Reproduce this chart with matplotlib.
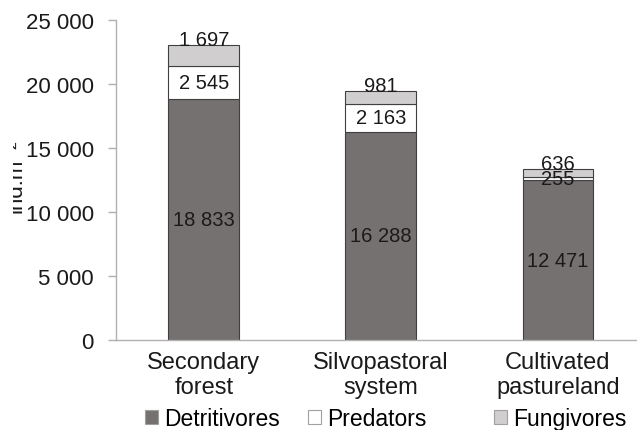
import matplotlib
matplotlib.use('Agg')
import matplotlib.pyplot as plt
import numpy as np
from matplotlib.patches import Rectangle

plt.rcParams['font.family'] = ['Liberation Sans', 'DejaVu Sans']

# abundance by land use (ind. per m2)
sites = ['Secondary\nforest', 'Silvopastoral\nsystem', 'Cultivated\npastureland']
detritivores = [18833, 16288, 12471]
predators = [2545, 2163, 255]
fungivores = [1697, 981, 636]

yticks = [0, 5000, 10000, 15000, 20000, 25000]
ytick_labels = ['0', '5 000', '10 000', '15 000', '20 000', '25 000']

c_det = '#767171'
c_pred = '#ffffff'
c_fung = '#d0cece'
edge = '#404040'


def fmt(v):
    return f'{v:,}'.replace(',', ' ')


fig = plt.figure(figsize=(6.37, 4.31), dpi=100)
ax = fig.add_axes([116 / 637, 1 - 341 / 431, 1 - 116 / 637, 320 / 431])

x = np.arange(len(sites))
w = 0.4
det = np.array(detritivores)
pred = np.array(predators)
fung = np.array(fungivores)

b1 = ax.bar(x, det, w, color=c_det, edgecolor=edge, linewidth=0.8, label='Detritivores')
b2 = ax.bar(x, pred, w, bottom=det, color=c_pred, edgecolor=edge, linewidth=0.8, label='Predators')
b3 = ax.bar(x, fung, w, bottom=det + pred, color=c_fung, edgecolor=edge, linewidth=0.8, label='Fungivores')

lab_kw = dict(ha='center', fontsize=14.5, color='#1a1a1a')
for i in range(len(sites)):
    ax.text(x[i], det[i] / 2, fmt(det[i]), va='center', **lab_kw)
    ax.text(x[i], det[i] + pred[i] / 2, fmt(pred[i]), va='center', **lab_kw)
    ax.text(x[i], det[i] + pred[i] + fung[i], fmt(fung[i]), va='baseline', **lab_kw)

ax.set_xlim(-0.495, 2.446)
ax.set_ylim(0, 25000)
ax.set_yticks(yticks)
ax.set_yticklabels(ytick_labels, fontsize=16, color='#1a1a1a')
ax.set_xticks(x)
ax.set_xticklabels(sites, fontsize=17, color='#1a1a1a', linespacing=1.15)
ax.tick_params(axis='x', length=0, pad=8)
ax.tick_params(axis='y', length=6, width=1, color='#b0b0b0', pad=10)

for s in ['top', 'right']:
    ax.spines[s].set_visible(False)
for s in ['left', 'bottom']:
    ax.spines[s].set_color('#b0b0b0')
    ax.spines[s].set_linewidth(1)

# y axis label, partly tucked behind the tick labels
fig.text(27 / 637, 1 - 176 / 431, 'ind.m⁻²', rotation=90, ha='right', va='center',
         fontsize=16, color='#1a1a1a')
fig.patches.append(Rectangle((0, 0), 13 / 637, 1, transform=fig.transFigure,
                             facecolor='white', edgecolor='none', zorder=5))

# one legend per entry so the spacing can be set freely
legend_x = [145, 308, 494]
for bars, lx in zip([b1, b2, b3], legend_x):
    leg = fig.legend(handles=[bars], loc='center left',
                     bbox_to_anchor=(lx / 637, 1 - 420 / 431),
                     frameon=False, fontsize=16.5, borderpad=0, borderaxespad=0,
                     handlelength=0.57, handleheight=0.57, handletextpad=0.25)
    for h in leg.legend_handles:
        h.set_edgecolor('#a0a0a0')
        h.set_linewidth(0.8)

fig.savefig('out.png', dpi=100)
